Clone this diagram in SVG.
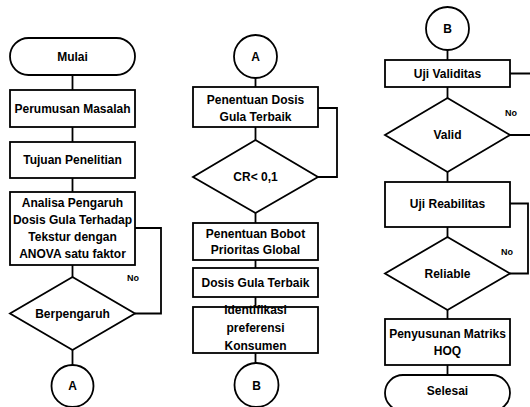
<svg xmlns="http://www.w3.org/2000/svg" width="530" height="407" viewBox="0 0 530 407">
<style>
.s{fill:#fff;stroke:#000;stroke-width:1.8}
.c{fill:none;stroke:#000;stroke-width:1.8}
text{font-family:"Liberation Sans",Arial,sans-serif;font-weight:bold;font-size:12px;text-anchor:middle;fill:#000}
.n{font-size:9px}
</style>
<rect width="530" height="407" fill="#fff"/>
<g id="connectors">
<path class="c" d="M72.5 75V90M72.5 127V142M72.5 178V192M72.5 265V277M72.5 350V365"/>
<path class="c" d="M135 228H161V313.5H135"/>
<path class="c" d="M255.5 78V87M255.5 127V140M255.5 213V223M255.5 260V268M255.5 297V307M255.5 353V363"/>
<path class="c" d="M318 108H337V177H318"/>
<path class="c" d="M447.5 50V60M447.5 87V98M447.5 172V182M447.5 227V237M447.5 310V319M447.5 365V375"/>
<path class="c" d="M510 73.5H533M510 135H533"/>
<path class="c" d="M510 203.5H528V273.5H510"/>
<text class="n" x="133" y="281">No</text>
<text class="n" x="511" y="116">No</text>
<text class="n" x="507" y="255">No</text>
</g>
<g id="mulai"><rect class="s" x="10" y="38" width="125" height="37" rx="18.5"/><text x="72.5" y="60.5">Mulai</text></g>
<g id="perumusan"><rect class="s" x="10" y="90" width="125" height="37"/><text x="72.5" y="112.5">Perumusan Masalah</text></g>
<g id="tujuan"><rect class="s" x="10" y="142" width="125" height="36"/><text x="72.5" y="164">Tujuan Penelitian</text></g>
<g id="analisa"><rect class="s" x="10" y="192" width="125" height="73"/><text x="72.5" y="207">Analisa Pengaruh</text><text x="72.5" y="224">Dosis Gula Terhadap</text><text x="72.5" y="241">Tekstur dengan</text><text x="72.5" y="258">ANOVA satu faktor</text></g>
<g id="berpengaruh"><polygon class="s" points="72.5,277 135,313.5 72.5,350 10,313.5"/><text x="72.5" y="318">Berpengaruh</text></g>
<g id="a1"><circle class="s" cx="72.5" cy="386" r="21"/><text x="72.5" y="390">A</text></g>
<g id="a2"><circle class="s" cx="255.5" cy="56.5" r="21.5"/><text x="255.5" y="61">A</text></g>
<g id="dosis"><rect class="s" x="193" y="87" width="125" height="40"/><text x="255.5" y="104">Penentuan Dosis</text><text x="255.5" y="121">Gula Terbaik</text></g>
<g id="cr"><polygon class="s" points="255.5,140 318,177 255.5,213 193,177"/><text x="255.5" y="181">CR&lt; 0,1</text></g>
<g id="bobot"><rect class="s" x="193" y="223" width="125" height="37"/><text x="255.5" y="238">Penentuan Bobot</text><text x="255.5" y="254">Prioritas Global</text></g>
<g id="terbaik"><rect class="s" x="193" y="268" width="125" height="29"/><text x="255.5" y="286.5">Dosis Gula Terbaik</text></g>
<g id="identifikasi"><rect class="s" x="193" y="307" width="125" height="46"/><text x="255.5" y="314">Identifikasi</text><text x="255.5" y="332">preferensi</text><text x="255.5" y="350">Konsumen</text></g>
<g id="b1"><circle class="s" cx="256.5" cy="385" r="22"/><text x="256.5" y="389.5">B</text></g>
<g id="b2"><circle class="s" cx="447.5" cy="28.5" r="21.5"/><text x="447.5" y="33">B</text></g>
<g id="validitas"><rect class="s" x="385" y="60" width="125" height="27"/><text x="447.5" y="77.5">Uji Validitas</text></g>
<g id="valid"><polygon class="s" points="447.5,98 510,135 447.5,172 385,135"/><text x="447.5" y="139">Valid</text></g>
<g id="reabilitas"><rect class="s" x="385" y="182" width="125" height="45"/><text x="447.5" y="208">Uji Reabilitas</text></g>
<g id="reliable"><polygon class="s" points="447.5,237 510,273.5 447.5,310 385,273.5"/><text x="447.5" y="278">Reliable</text></g>
<g id="hoq"><rect class="s" x="385" y="319" width="125" height="46"/><text x="447.5" y="338">Penyusunan Matriks</text><text x="447.5" y="355">HOQ</text></g>
<g id="selesai"><rect class="s" x="385" y="375" width="125" height="36" rx="18"/><text x="447.5" y="395">Selesai</text></g>
</svg>
